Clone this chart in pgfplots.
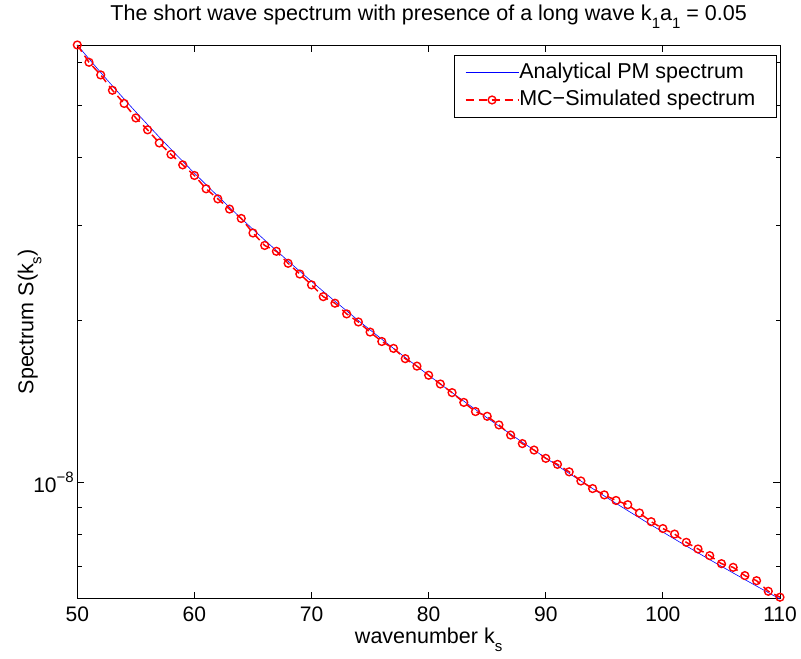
\documentclass[border=0pt]{standalone}
\usepackage{fontspec}
\setmainfont{Liberation Sans}
\usepackage{pgfplots}
\usepackage{pgfplotstable}
\pgfplotsset{compat=1.18}
\definecolor{mblue}{rgb}{0,0,1}
\definecolor{mred}{rgb}{1,0,0}
\newcommand\msub[1]{\raisebox{-0.38em}{\fontsize{15}{15}\selectfont #1}}

\pgfplotstableread{
k S
50 6.472e-8
51 6.099e-8
52 5.754e-8
53 5.434e-8
54 5.138e-8
55 4.862e-8
56 4.607e-8
57 4.368e-8
58 4.146e-8
59 3.939e-8
60 3.745e-8
61 3.564e-8
62 3.394e-8
63 3.235e-8
64 3.086e-8
65 2.946e-8
66 2.814e-8
67 2.690e-8
68 2.573e-8
69 2.463e-8
70 2.359e-8
71 2.260e-8
72 2.167e-8
73 2.080e-8
74 1.996e-8
75 1.918e-8
76 1.843e-8
77 1.772e-8
78 1.705e-8
79 1.641e-8
80 1.580e-8
81 1.522e-8
82 1.467e-8
83 1.415e-8
84 1.365e-8
85 1.317e-8
86 1.272e-8
87 1.229e-8
88 1.187e-8
89 1.148e-8
90 1.110e-8
91 1.074e-8
92 1.039e-8
93 1.006e-8
94 9.740e-9
95 9.436e-9
96 9.144e-9
97 8.864e-9
98 8.595e-9
99 8.338e-9
100 8.090e-9
101 7.852e-9
102 7.623e-9
103 7.403e-9
104 7.192e-9
105 6.988e-9
106 6.793e-9
107 6.604e-9
108 6.422e-9
109 6.247e-9
110 6.078e-9
}\analytic

\pgfplotstableread{
k S
50 6.472e-8
51 6.011e-8
52 5.695e-8
53 5.334e-8
54 5.042e-8
55 4.740e-8
56 4.505e-8
57 4.260e-8
58 4.056e-8
59 3.880e-8
60 3.708e-8
61 3.503e-8
62 3.355e-8
63 3.212e-8
64 3.086e-8
65 2.900e-8
66 2.750e-8
67 2.682e-8
68 2.548e-8
69 2.434e-8
70 2.324e-8
71 2.210e-8
72 2.149e-8
73 2.053e-8
74 1.984e-8
75 1.900e-8
76 1.825e-8
77 1.772e-8
78 1.696e-8
79 1.643e-8
80 1.580e-8
81 1.522e-8
82 1.467e-8
83 1.407e-8
84 1.353e-8
85 1.326e-8
86 1.278e-8
87 1.224e-8
88 1.180e-8
89 1.148e-8
90 1.108e-8
91 1.080e-8
92 1.046e-8
93 1.006e-8
94 9.740e-9
95 9.480e-9
96 9.257e-9
97 9.091e-9
98 8.775e-9
99 8.455e-9
100 8.211e-9
101 8.019e-9
102 7.743e-9
103 7.526e-9
104 7.315e-9
105 7.068e-9
106 6.958e-9
107 6.717e-9
108 6.573e-9
109 6.282e-9
110 6.125e-9
}\mcsim

\begin{document}
\begin{tikzpicture}[font=\fontsize{21.5}{25}\selectfont]
\path[use as bounding box] (-77.3pt,-60.5pt) rectangle (723.7pt,598.5pt);
\begin{semilogyaxis}[
  scale only axis,
  width=702.7pt, height=553.5pt,
  xmin=50, xmax=110,
  ymin=6.09e-9, ymax=6.47e-8,
  xtick={50,60,...,110},
  ytick={1e-8},
  yticklabels={10\raisebox{0.45em}{\fontsize{15}{15}\selectfont −8}},
  minor ytick={7e-9,8e-9,9e-9,2e-8,3e-8,4e-8,5e-8,6e-8},
  tick align=inside,
  major tick length=7pt,
  minor tick length=4.5pt,
  axis line style={line width=0.9pt},
  every tick/.style={black, line width=0.8pt},
  tick label style={font=\fontsize{21}{25}\selectfont},
  /pgf/number format/assume math mode=true,
  xticklabel shift=5pt,
  clip=false,
  title={The short wave spectrum with presence of a long wave k\msub{1}a\msub{1} = 0.05},
  title style={at={(axis description cs:0.5,1.033)}, anchor=base, font=\fontsize{21.5}{25}\selectfont},
  xlabel={wavenumber k\msub{s}},
  xlabel style={at={(axis description cs:0.5,-0.0813)}, anchor=base, font=\fontsize{21.5}{25}\selectfont},
  ylabel={Spectrum S(k\msub{s})},
  ylabel style={at={(axis description cs:-0.0626,0.5)}, anchor=base, font=\fontsize{21.5}{25}\selectfont},
  legend cell align=left,
  legend style={at={(axis description cs:0.9953,0.9819)}, anchor=north east,
    line width=0.8pt, font=\fontsize{21.5}{25}\selectfont,
    inner xsep=10pt, inner ysep=8pt, row sep=8pt,
    nodes={inner sep=0pt, text height=15pt, text depth=4pt}},
  legend image code/.code={\draw[mark repeat=2, mark phase=2, #1] plot coordinates {(0pt,0pt) (26.5pt,0pt) (53pt,0pt)};},
]
\addplot[draw=mblue, line width=0.6pt, forget plot]
  table[x=k, y=S] {\analytic};
\addplot[draw=mred, line width=1.5pt, dash pattern=on 8pt off 5pt,
  mark=o, mark size=3.9pt, mark options={solid, draw=mred, line width=1.4pt}, forget plot]
  table[x=k, y=S] {\mcsim};
\addlegendimage{draw=mblue, line width=1pt}
\addlegendentry{Analytical PM spectrum}
\addlegendimage{draw=mred, line width=1.5pt, dash pattern=on 8pt off 5pt,
  mark=o, mark size=3.9pt, mark options={solid, draw=mred, line width=1.4pt}}
\addlegendentry{MC−Simulated spectrum\rule{11pt}{0pt}}
\end{semilogyaxis}
\end{tikzpicture}
\end{document}
